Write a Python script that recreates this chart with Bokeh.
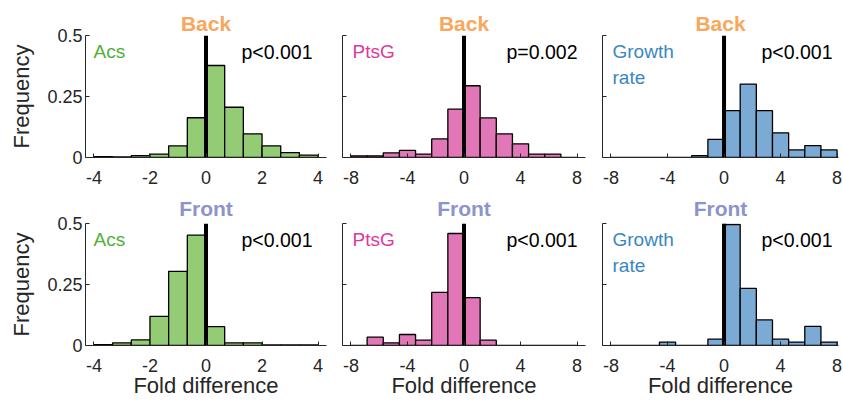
import numpy as np
from bokeh.plotting import figure
from bokeh.layouts import column, row
from bokeh.models import Label, FixedTicker, Range1d, Title
from bokeh.embed import file_html
from bokeh.resources import INLINE

# ---------------- data ----------------
acs_edges = list(np.linspace(-4, 4, 13))      # 12 bins of width 2/3
ptsg_edges = list(np.linspace(-8, 8, 15))     # 14 bins of width 8/7
growth_edges = list(np.linspace(-8, 8, 15))   # 14 bins of width 8/7

acs_back = [0.003, 0.002, 0.008, 0.014, 0.048, 0.163, 0.377, 0.206, 0.097, 0.048, 0.020, 0.010]
ptsg_back = [0.007, 0.007, 0.019, 0.029, 0.014, 0.076, 0.198, 0.294, 0.162, 0.097, 0.056, 0.014, 0.014, 0.0]
growth_back = [0.0, 0.0, 0.0, 0.0, 0.0, 0.008, 0.074, 0.192, 0.301, 0.192, 0.101, 0.031, 0.049, 0.031]

acs_front = [0.003, 0.011, 0.023, 0.119, 0.304, 0.452, 0.077, 0.011, 0.011, 0.002, 0.002, 0.002]
ptsg_front = [0.0, 0.034, 0.011, 0.045, 0.022, 0.218, 0.459, 0.196, 0.022, 0.0, 0.0, 0.0, 0.0, 0.0]
growth_front = [0.0, 0.0, 0.0, 0.014, 0.0, 0.0, 0.026, 0.496, 0.234, 0.105, 0.026, 0.014, 0.078, 0.014]

row_titles = ["Back", "Front"]
names = ["Acs", "PtsG", ["Growth", "rate"]]
p_back = ["p<0.001", "p=0.002", "p<0.001"]
p_front = ["p<0.001", "p<0.001", "p<0.001"]
y_label = "Frequency"
x_label = "Fold difference"

acs_ticks = [-4, -2, 0, 2, 4]
acs_tick_labels = ["-4", "-2", "0", "2", "4"]
wide_ticks = [-8, -4, 0, 4, 8]
wide_tick_labels = ["-8", "-4", "0", "4", "8"]
y_ticks = [0, 0.25, 0.5]
y_tick_labels = ["0", "0.25", "0.5"]
zero_line_x = [0, 0]
zero_line_y = [0, 0.5]

# ---------------- style ----------------
FONT = "Liberation Sans"
AX = "#262626"
title_colors = ["#F9A75C", "#8C94CB"]
text_colors = ["#4DB136", "#DF379B", "#3A86C2"]
bar_colors = ["#94CC76", "#E277B7", "#7BABD4"]

col_geo = [  # width, border_left, border_right, xrange
    dict(w=334, bl=85, br=8, xr=(-4.3, 4.3)),
    dict(w=260, bl=8, br=9, xr=(-8.6, 8.6)),
    dict(w=248, bl=8, br=4, xr=(-8.6, 8.1)),
]
row_geo = [dict(h=190, bt=35, bb=33, ts=2), dict(h=211, bt=33, bb=56, ts=8)]
name_off = [8, 10, 10]
pval_off = [-14, -8, -6]


def panel(r, c, edges, heights, pval):
    g = col_geo[c]
    rg = row_geo[r]
    p = figure(width=g["w"], height=rg["h"], x_range=Range1d(*g["xr"]), y_range=Range1d(0, 0.5),
               output_backend="svg", toolbar_location=None,
               min_border_left=g["bl"], min_border_right=g["br"],
               min_border_top=rg["bt"], min_border_bottom=rg["bb"])
    p.outline_line_color = None
    p.grid.visible = False
    p.background_fill_color = "white"
    p.border_fill_color = "white"

    p.title = Title(text=row_titles[r], align="center", text_font=FONT, text_font_style="bold",
                    text_font_size="21px", text_color=title_colors[r], standoff=rg["ts"])

    p.quad(left=edges[:-1], right=edges[1:], bottom=0, top=heights,
           fill_color=bar_colors[c], line_color="black", line_width=1.3)
    p.line(zero_line_x, zero_line_y, line_color="black", line_width=4)

    if c == 0:
        xt, xl = acs_ticks, acs_tick_labels
    else:
        xt, xl = wide_ticks, wide_tick_labels
    p.xaxis.ticker = FixedTicker(ticks=xt)
    p.xaxis.major_label_overrides = {t: l for t, l in zip(xt, xl)}
    p.yaxis.ticker = FixedTicker(ticks=y_ticks)
    if c == 0:
        p.yaxis.major_label_overrides = {t: l for t, l in zip(y_ticks, y_tick_labels)}
        p.yaxis.major_label_standoff = 3
        p.yaxis.axis_label = y_label
        p.yaxis.axis_label_standoff = 10
    else:
        p.yaxis.major_label_overrides = {t: "" for t in y_ticks}
        p.yaxis.major_label_standoff = 0
    if r == 1:
        p.xaxis.axis_label = x_label
        p.xaxis.axis_label_standoff = -2
    for ax in (p.xaxis[0], p.yaxis[0]):
        ax.axis_line_color = AX
        ax.axis_line_width = 1
        ax.major_tick_line_color = AX
        ax.major_tick_in = 4
        ax.major_tick_out = 0
        ax.minor_tick_line_color = None
        ax.major_label_text_font = FONT
        ax.major_label_text_font_size = "18px"
        ax.major_label_text_color = AX
        ax.axis_label_text_font = FONT
        ax.axis_label_text_font_size = "22px"
        ax.axis_label_text_font_style = "normal"
        ax.axis_label_text_color = AX
    p.xaxis.major_label_standoff = 13

    x0, x1 = g["xr"]
    nm = names[c]
    lines = nm if isinstance(nm, list) else [nm]
    for i, t in enumerate(lines):
        p.add_layout(Label(x=x0, y=0.5, x_offset=name_off[c], y_offset=-16 - 26 * i, text=t,
                           text_align="left", text_baseline="alphabetic",
                           text_font=FONT, text_font_size="19px", text_color=text_colors[c]))
    p.add_layout(Label(x=x1, y=0.5, x_offset=pval_off[c], y_offset=-16, text=pval,
                       text_align="right", text_baseline="alphabetic",
                       text_font=FONT, text_font_size="19.5px", text_color="black"))
    return p


edges = [acs_edges, ptsg_edges, growth_edges]
data = [[acs_back, ptsg_back, growth_back], [acs_front, ptsg_front, growth_front]]
pvals = [p_back, p_front]
rows = []
for r in range(2):
    rows.append(row([panel(r, c, edges[c], data[r][c], pvals[r][c]) for c in range(3)], spacing=0))
layout = column(rows, spacing=0)

open("out.html", "w").write(file_html(layout, INLINE))
